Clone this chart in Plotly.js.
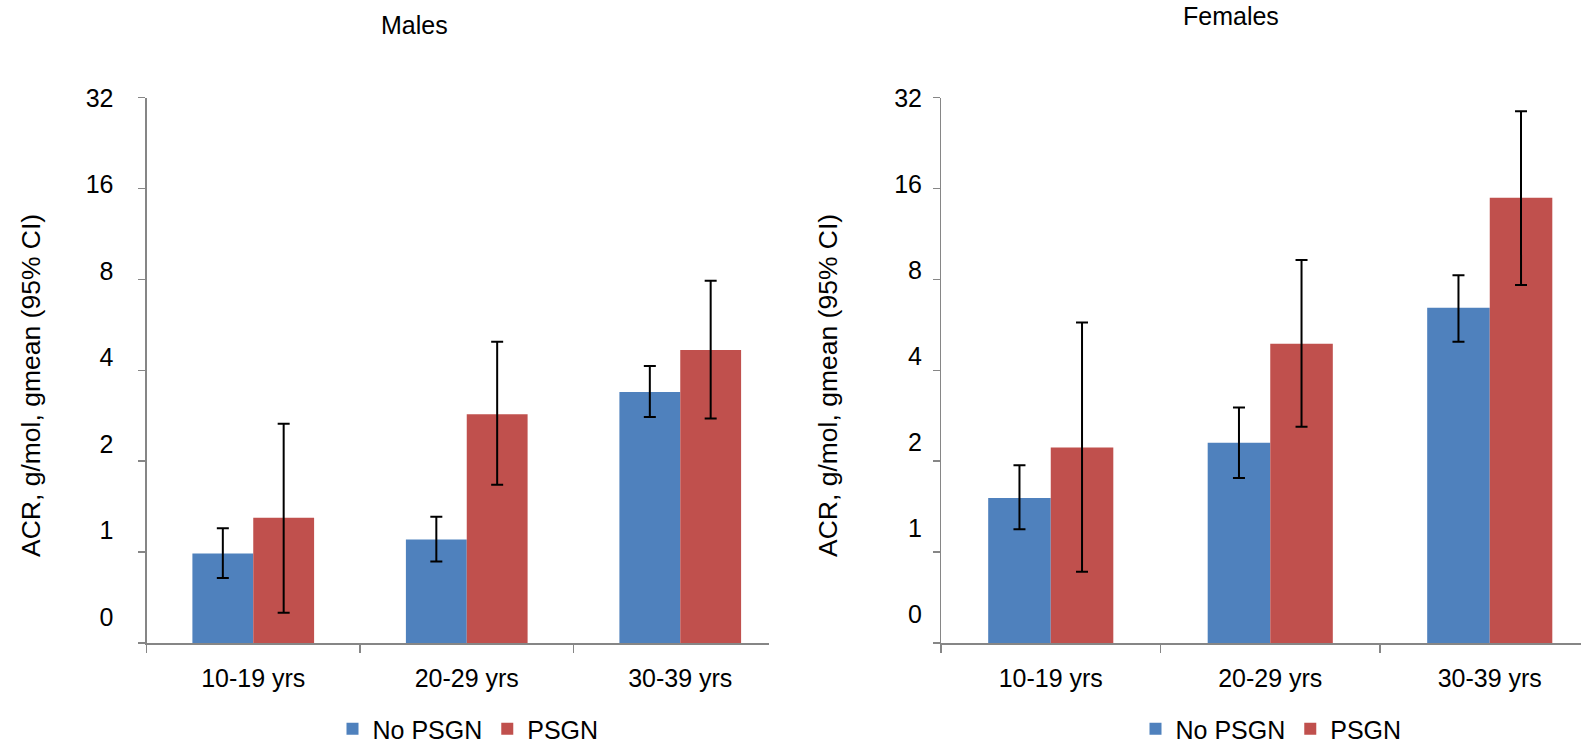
<!DOCTYPE html>
<html>
<head>
<meta charset="utf-8">
<script src="https://cdn.plot.ly/plotly-3.0.1.min.js"></script>
<style>html,body{margin:0;padding:0;background:#fff;}#chart{width:1582px;height:746px;}</style>
</head>
<body>
<div id="chart"></div>
<script>
// ---- data ----
const categories = ['10-19 yrs', '20-29 yrs', '30-39 yrs'];
const seriesNames = ['No PSGN', 'PSGN'];
const panelTitles = ['Males', 'Females'];
const yTitle = 'ACR, g/mol, gmean (95% CI)';
const yTickVals = [0.5, 1, 2, 4, 8, 16, 32];
const yTickText = ['0', '1', '2', '4', '8', '16', '32'];

// Males
const maleNoPsgn = [0.99, 1.10, 3.39];
const maleNoPsgnLo = [0.82, 0.93, 2.80];
const maleNoPsgnHi = [1.20, 1.31, 4.13];
const malePsgn = [1.30, 2.86, 4.67];
const malePsgnLo = [0.63, 1.67, 2.77];
const malePsgnHi = [2.66, 4.97, 7.92];

// Females
const femaleNoPsgn = [1.51, 2.30, 6.44];
const femaleNoPsgnLo = [1.19, 1.76, 4.97];
const femaleNoPsgnHi = [1.94, 3.01, 8.25];
const femalePsgn = [2.22, 4.90, 14.9];
const femalePsgnLo = [0.86, 2.60, 7.66];
const femalePsgnHi = [5.76, 9.27, 28.8];

// ---- styling ----
const W = 1582, H = 746;
const fx = p => p / W;
const fy = p => 1 - p / H;
const BLUE = '#4F81BD', RED = '#C0504D', AXIS = '#868686';
const FONT = 'Liberation Sans, Arial, Helvetica, sans-serif';
const FS = 25;

function errBar(v, lo, hi) {
  return {
    type: 'data', symmetric: false,
    array: hi.map((h, i) => h - v[i]),
    arrayminus: lo.map((l, i) => v[i] - l),
    color: '#000', thickness: 2, width: 6
  };
}

function barTrace(name, v, lo, hi, color, xa, ya, legend) {
  return {
    type: 'bar', name: name, x: categories, y: v,
    xaxis: xa, yaxis: ya, legend: legend,
    marker: {color: color, line: {width: 0}},
    error_y: errBar(v, lo, hi),
    hoverinfo: 'skip'
  };
}
// empty helper traces so the overlaid tick-label axes get drawn
function labelHolder(xa, ya) {
  return {type: 'scatter', mode: 'markers', x: [], y: [], xaxis: xa, yaxis: ya,
          showlegend: false, hoverinfo: 'skip'};
}

const data = [
  barTrace(seriesNames[0], maleNoPsgn, maleNoPsgnLo, maleNoPsgnHi, BLUE, 'x', 'y', 'legend'),
  barTrace(seriesNames[1], malePsgn, malePsgnLo, malePsgnHi, RED, 'x', 'y', 'legend'),
  barTrace(seriesNames[0], femaleNoPsgn, femaleNoPsgnLo, femaleNoPsgnHi, BLUE, 'x2', 'y2', 'legend2'),
  barTrace(seriesNames[1], femalePsgn, femalePsgnLo, femalePsgnHi, RED, 'x2', 'y2', 'legend2'),
  labelHolder('x', 'y3'),
  labelHolder('x2', 'y4')
];

const yDom = [fy(643), fy(97.5)];
const logRange = [Math.log10(yTickVals[0]), Math.log10(yTickVals[yTickVals.length - 1])];

function xAxis(dom, range, anchor) {
  return {
    domain: dom, anchor: anchor, type: 'category', range: range,
    categoryorder: 'array', categoryarray: categories,
    tickson: 'boundaries', ticks: 'outside', ticklen: 8, tickwidth: 1.5, tickcolor: AXIS,
    showline: true, linecolor: AXIS, linewidth: 1.5,
    showgrid: false, zeroline: false, fixedrange: true,
    tickfont: {family: FONT, size: FS, color: '#000'}, ticklabelstandoff: 12
  };
}
function yAxis(anchor) {
  return {
    domain: yDom, anchor: anchor, type: 'log', range: logRange,
    tickmode: 'array', tickvals: yTickVals, showticklabels: false,
    ticks: 'outside', ticklen: 7, tickwidth: 1.5, tickcolor: AXIS,
    showline: true, linecolor: AXIS, linewidth: 1.5,
    showgrid: false, zeroline: false, fixedrange: true
  };
}
function labelAxis(anchor, over, range, standoff) {
  return {
    domain: yDom, anchor: anchor, overlaying: over, side: 'left', type: 'linear',
    range: range, tickmode: 'array', tickvals: yTickText.map((t, i) => i), ticktext: yTickText,
    ticks: '', showline: false, showgrid: false, zeroline: false, fixedrange: true,
    ticklabelstandoff: standoff,
    tickfont: {family: FONT, size: FS, color: '#000'}
  };
}

// both panels are cut off slightly before the end of their last category
const catRange = [-0.5, 2.416];
const maleLeft = 146.5, maleCat = 213.5;
const femLeft = 941, femCat = 219.5;

const layout = {
  width: W, height: H,
  margin: {l: 0, r: 0, t: 0, b: 0, autoexpand: false},
  paper_bgcolor: '#fff', plot_bgcolor: '#fff',
  font: {family: FONT, size: FS, color: '#000'},
  barmode: 'group', bargap: 0.43, bargroupgap: 0,
  xaxis: xAxis([fx(maleLeft), fx(maleLeft + (catRange[1] - catRange[0]) * maleCat)], catRange, 'y'),
  yaxis: yAxis('x'),
  yaxis3: labelAxis('x', 'y', [(617 - 643) / 86.5, (617 - 97.5) / 86.5], 32),
  xaxis2: xAxis([fx(femLeft), Math.min(1, fx(femLeft + (catRange[1] - catRange[0]) * femCat))], catRange, 'y2'),
  yaxis2: yAxis('x2'),
  yaxis4: labelAxis('x2', 'y2', [(614 - 643) / 86, (614 - 97.5) / 86], 18),
  legend: {
    orientation: 'h', x: fx(468), xanchor: 'center', y: fy(729), yanchor: 'middle',
    font: {family: FONT, size: FS, color: '#000'}, bgcolor: 'rgba(0,0,0,0)',
    itemwidth: 30, tracegroupgap: 0
  },
  legend2: {
    orientation: 'h', x: fx(1271), xanchor: 'center', y: fy(729), yanchor: 'middle',
    font: {family: FONT, size: FS, color: '#000'}, bgcolor: 'rgba(0,0,0,0)',
    itemwidth: 30, tracegroupgap: 0
  },
  annotations: [
    {text: panelTitles[0], xref: 'paper', yref: 'paper', x: fx(414), y: fy(25),
     xanchor: 'center', yanchor: 'middle', showarrow: false, font: {family: FONT, size: FS, color: '#000'}},
    {text: panelTitles[1], xref: 'paper', yref: 'paper', x: fx(1231), y: fy(16),
     xanchor: 'center', yanchor: 'middle', showarrow: false, font: {family: FONT, size: FS, color: '#000'}},
    {text: yTitle, xref: 'paper', yref: 'paper', x: fx(31), y: fy(386), textangle: -90,
     xanchor: 'center', yanchor: 'middle', showarrow: false, font: {family: FONT, size: 26.5, color: '#000'}},
    {text: yTitle, xref: 'paper', yref: 'paper', x: fx(828), y: fy(386), textangle: -90,
     xanchor: 'center', yanchor: 'middle', showarrow: false, font: {family: FONT, size: 26.5, color: '#000'}}
  ],
  showlegend: true
};

Plotly.newPlot('chart', data, layout, {displayModeBar: false, staticPlot: true});
</script>
</body>
</html>
